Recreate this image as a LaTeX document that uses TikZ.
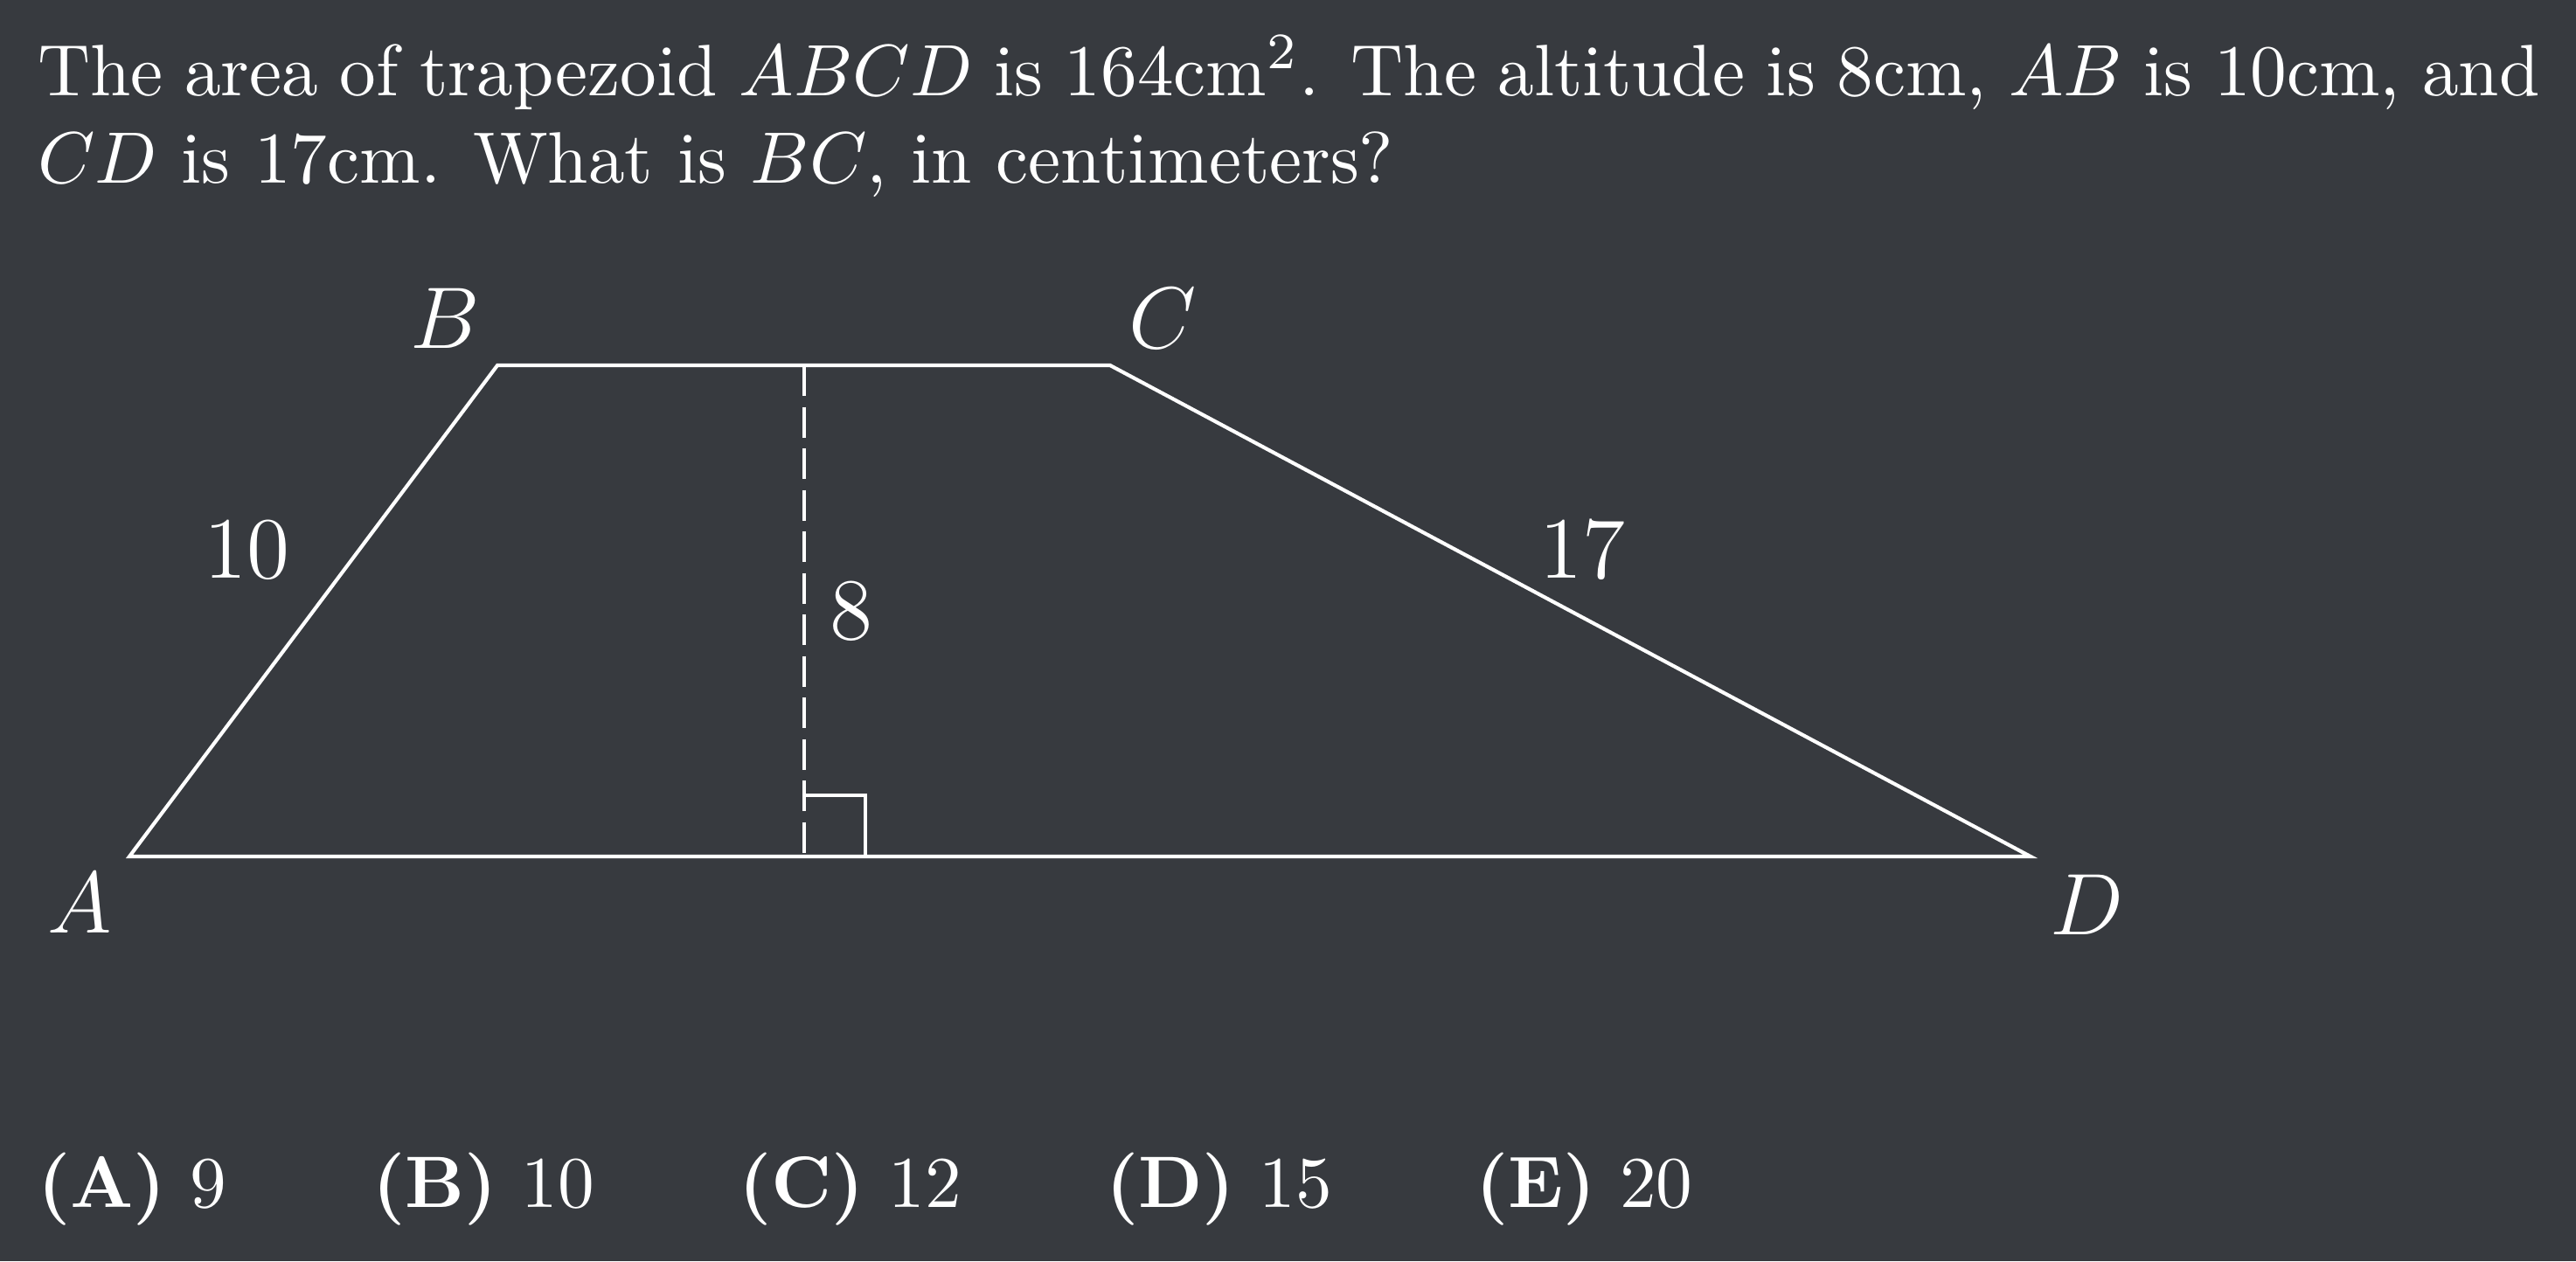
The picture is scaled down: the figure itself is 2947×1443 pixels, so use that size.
\documentclass[tikz,border=0pt]{standalone}
\usepackage{amsmath}
\definecolor{bgc}{RGB}{55,58,63}
\begin{document}
\begin{tikzpicture}[x=0.12pt,y=-0.12pt,
  every node/.style={text=white,inner sep=0pt,outer sep=0pt},
  edge/.style={draw=white,line width=0.5pt},
  altline/.style={draw=white,line width=0.5pt,dash pattern=on 4.2pt off 1.5pt},
  lbl/.style={font=\fontsize{12}{14}\selectfont},
  txt/.style={font=\fontsize{10}{12}\selectfont,anchor=base west},
  ans/.style={font=\fontsize{10}{12}\selectfont,anchor=base west}]
\fill[bgc] (0,0) rectangle (2947,1443);
\useasboundingbox (0,0) rectangle (2947,1443);
% question text
\node[txt] (q1) at (43,109) {\makebox[343.5pt][s]{The area of trapezoid $ABCD$ is 164cm$^2$. The altitude is 8cm, $AB$ is 10cm, and}};
\node[txt] (q2) at (43,209) {$CD$ is 17cm. What is $BC$, in centimeters?};
% vertices
\coordinate (A) at (148,980);
\coordinate (B) at (569,418);
\coordinate (C) at (1270,418);
\coordinate (D) at (2323,980);
\coordinate (H) at (920,418);
\coordinate (F) at (920,980);
\coordinate (R1) at (920,910);
\coordinate (R2) at (990,910);
\coordinate (R3) at (990,980);
\draw[edge] (A) -- (B) -- (C) -- (D) -- cycle;
\draw[altline] (H) -- (F);
\draw[edge] (R1) -- (R2) -- (R3);
% labels
\node[lbl] (lA) at (91,1033) {$A$};
\node[lbl] (lB) at (509,364) {$B$};
\node[lbl] (lC) at (1330,364) {$C$};
\node[lbl] (lD) at (2387,1035) {$D$};
\node[lbl] (l10) at (282,629) {10};
\node[lbl] (l17) at (1810,629) {17};
\node[lbl] (l8) at (974,699) {8};
% answers
\node[ans] (aA) at (43,1381) {\textbf{(A)} 9};
\node[ans] (aB) at (426,1381) {\textbf{(B)} 10};
\node[ans] (aC) at (845,1381) {\textbf{(C)} 12};
\node[ans] (aD) at (1265,1381) {\textbf{(D)} 15};
\node[ans] (aE) at (1688,1381) {\textbf{(E)} 20};
\end{tikzpicture}
\end{document}
